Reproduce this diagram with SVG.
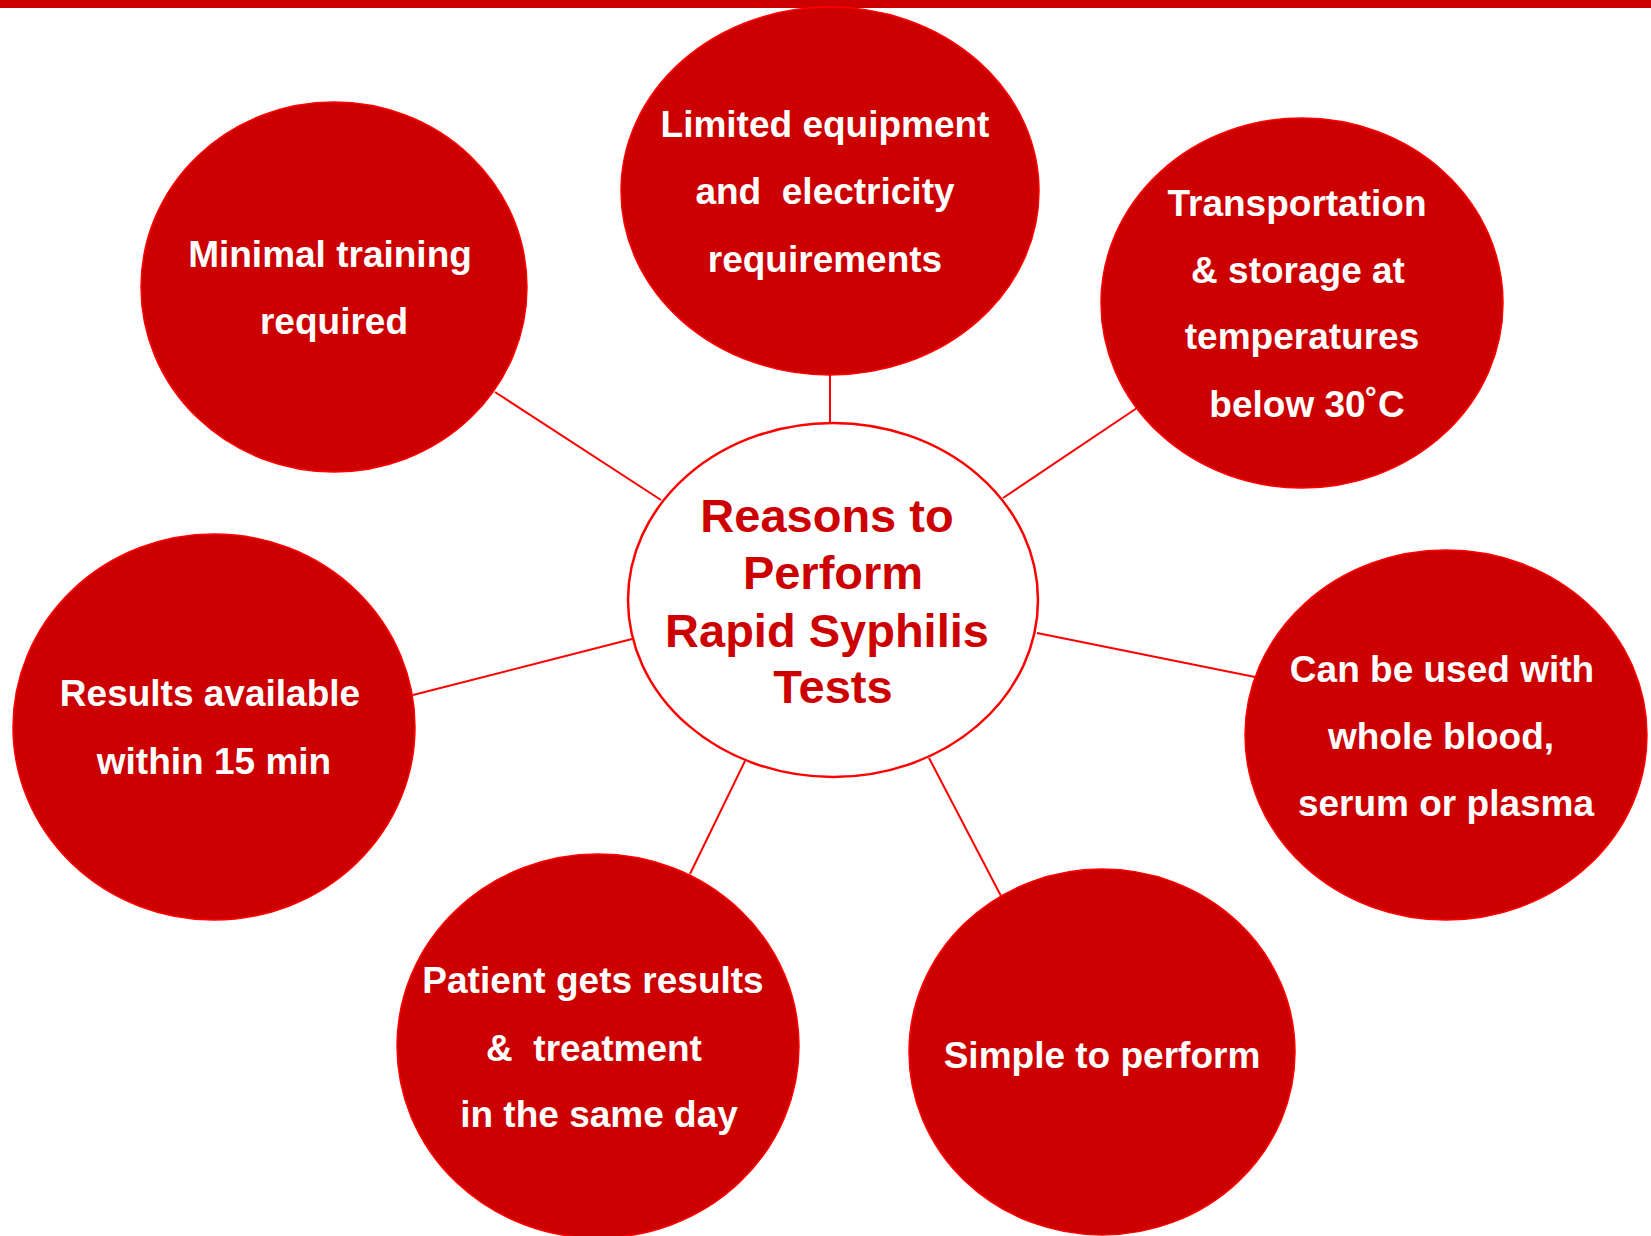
<svg xmlns="http://www.w3.org/2000/svg" width="1651" height="1236" viewBox="0 0 1651 1236">
<style>
.node{fill:#CC0000;stroke:#FF0000;stroke-width:1.5}
.hub{fill:#FFFFFF;stroke:#FF0000;stroke-width:2.5}
.lbl{font-family:"Liberation Sans",Arial,sans-serif;font-weight:bold;font-size:37px;fill:#FFFFFF;text-anchor:middle}
.hubt{font-family:"Liberation Sans",Arial,sans-serif;font-weight:bold;font-size:47px;fill:#CC0000;text-anchor:middle}
.conn line{stroke:#FF0000;stroke-width:2}
</style>
<rect x="0" y="0" width="1651" height="1236" fill="#FFFFFF"/>
<rect x="0" y="0" width="1651" height="8" fill="#CC0000"/>
<g id="connectors" class="conn">
<line x1="830" y1="375" x2="830" y2="423"/>
<line x1="495" y1="392" x2="661" y2="500"/>
<line x1="1003" y1="498" x2="1137" y2="408"/>
<line x1="413" y1="695" x2="632" y2="639"/>
<line x1="1037" y1="633" x2="1255" y2="677"/>
<line x1="745" y1="761" x2="690" y2="874"/>
<line x1="929" y1="758" x2="1001" y2="896"/>
</g>
<g id="node-center">
<ellipse class="hub" cx="833" cy="600" rx="205" ry="177"/>
<text class="hubt" x="827" y="532">Reasons to</text>
<text class="hubt" x="833" y="589">Perform</text>
<text class="hubt" x="827" y="647">Rapid Syphilis</text>
<text class="hubt" x="833" y="703">Tests</text>
</g>
<g id="node-equipment">
<ellipse class="node" cx="830" cy="191" rx="209" ry="184"/>
<text class="lbl" x="825" y="137">Limited equipment</text>
<text class="lbl" x="825" y="204" xml:space="preserve">and  electricity</text>
<text class="lbl" x="825" y="272">requirements</text>
</g>
<g id="node-training">
<ellipse class="node" cx="334" cy="287" rx="193" ry="185"/>
<text class="lbl" x="330" y="267">Minimal training</text>
<text class="lbl" x="334" y="334">required</text>
</g>
<g id="node-transport">
<ellipse class="node" cx="1302" cy="303" rx="201" ry="185"/>
<text class="lbl" x="1297" y="216">Transportation</text>
<text class="lbl" x="1298" y="283">&amp; storage at</text>
<text class="lbl" x="1302" y="349">temperatures</text>
<text class="lbl" x="1307" y="417">below 30˚C</text>
</g>
<g id="node-results">
<ellipse class="node" cx="214" cy="727" rx="201" ry="193"/>
<text class="lbl" x="210" y="706">Results available</text>
<text class="lbl" x="214" y="774">within 15 min</text>
</g>
<g id="node-blood">
<ellipse class="node" cx="1446" cy="735" rx="201" ry="185"/>
<text class="lbl" x="1442" y="682">Can be used with</text>
<text class="lbl" x="1441" y="749">whole blood,</text>
<text class="lbl" x="1446" y="816">serum or plasma</text>
</g>
<g id="node-sameday">
<ellipse class="node" cx="598" cy="1046" rx="201" ry="192"/>
<text class="lbl" x="593" y="993">Patient gets results</text>
<text class="lbl" x="594" y="1061" xml:space="preserve">&amp;  treatment</text>
<text class="lbl" x="599" y="1127">in the same day</text>
</g>
<g id="node-simple">
<ellipse class="node" cx="1102" cy="1052" rx="193" ry="183"/>
<text class="lbl" x="1102" y="1068">Simple to perform</text>
</g>
</svg>
